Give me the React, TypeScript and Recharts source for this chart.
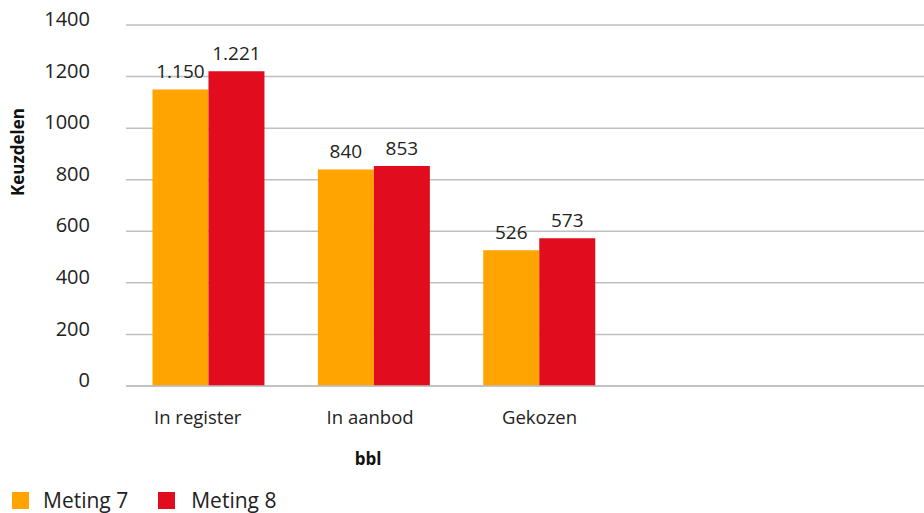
import React from 'react';
import { BarChart, Bar, XAxis, YAxis, CartesianGrid, LabelList } from 'recharts';

const categories = ['In register', 'In aanbod', 'Gekozen', ' ', '  '];
const meting7 = [1150, 840, 526, null, null];
const meting8 = [1221, 853, 573, null, null];
const yTicks = [0, 200, 400, 600, 800, 1000, 1200, 1400];

const data = categories.map((name, i) => ({ name, m7: meting7[i], m8: meting8[i] }));

const FONT = '"Open Sans", "Noto Sans", sans-serif';
const ORANGE = '#FFA400';
const RED = '#E10D1E';
const TEXT = '#222';

const fmt = (v: any) => (v == null ? '' : String(v).replace(/\B(?=(\d{3})+(?!\d))/g, '.'));

// the original places the category labels a little left of the bar pairs
const xShift = [-11, -4, 0, 0, 0];

const YTick = (props: any) => {
  const { x, y, payload } = props;
  return (
    <text x={x} y={y - 6} dy="0.355em" textAnchor="end" fill={TEXT} fontSize={20} fontFamily={FONT}>
      {payload.value}
    </text>
  );
};

const XTick = (props: any) => {
  const { x, y, payload, index } = props;
  return (
    <text x={x + (xShift[index] || 0)} y={y} dy="0.71em" textAnchor="middle" fill={TEXT} fontSize={18.5} fontFamily={FONT}>
      {payload.value}
    </text>
  );
};

export default function App() {
  return (
    <div style={{ position: 'absolute', left: 0, top: 0, width: 924, height: 513, overflow: 'hidden', fontFamily: FONT, background: '#fff' }}>
      <BarChart
        width={953}
        height={513}
        data={data}
        margin={{ top: 25, right: 0, left: 0, bottom: 0 }}
        barGap={0}
        barCategoryGap="16%"
      >
        <CartesianGrid vertical={false} stroke="#BFBFBF" strokeWidth={1.5} />
        <XAxis
          dataKey="name"
          height={127}
          axisLine={{ stroke: '#BFBFBF', strokeWidth: 1.5 }}
          tickLine={false}
          tickSize={0}
          tickMargin={25}
          tick={<XTick />}
          interval={0}
        />
        <YAxis
          width={126}
          domain={[0, 1400]}
          ticks={yTicks}
          axisLine={false}
          tickLine={false}
          tickSize={0}
          tickMargin={36}
          tick={<YTick />}
        />
        <Bar dataKey="m7" name="Meting 7" fill={ORANGE} isAnimationActive={false}>
          <LabelList dataKey="m7" position="top" offset={11} formatter={fmt} fill={TEXT} fontSize={19} fontFamily={FONT} />
        </Bar>
        <Bar dataKey="m8" name="Meting 8" fill={RED} isAnimationActive={false}>
          <LabelList dataKey="m8" position="top" offset={11} formatter={fmt} fill={TEXT} fontSize={19} fontFamily={FONT} />
        </Bar>
      </BarChart>
      <div
        style={{
          position: 'absolute',
          left: 17,
          top: 152,
          transform: 'translate(-50%, -50%) rotate(-90deg)',
          fontWeight: 700,
          fontSize: 17,
          color: '#111',
          whiteSpace: 'nowrap',
        }}
      >
        Keuzdelen
      </div>
      <div
        style={{
          position: 'absolute',
          left: 368,
          top: 458,
          transform: 'translate(-50%, -50%)',
          fontWeight: 700,
          fontSize: 17,
          color: '#111',
        }}
      >
        bbl
      </div>
      <div style={{ position: 'absolute', left: 12, top: 486, display: 'flex', alignItems: 'center', fontSize: 21, color: TEXT }}>
        <span style={{ width: 17, height: 17, background: ORANGE, display: 'inline-block', marginRight: 14 }} />
        <span style={{ marginRight: 30 }}>Meting 7</span>
        <span style={{ width: 17, height: 17, background: RED, display: 'inline-block', marginRight: 16 }} />
        <span>Meting 8</span>
      </div>
    </div>
  );
}
